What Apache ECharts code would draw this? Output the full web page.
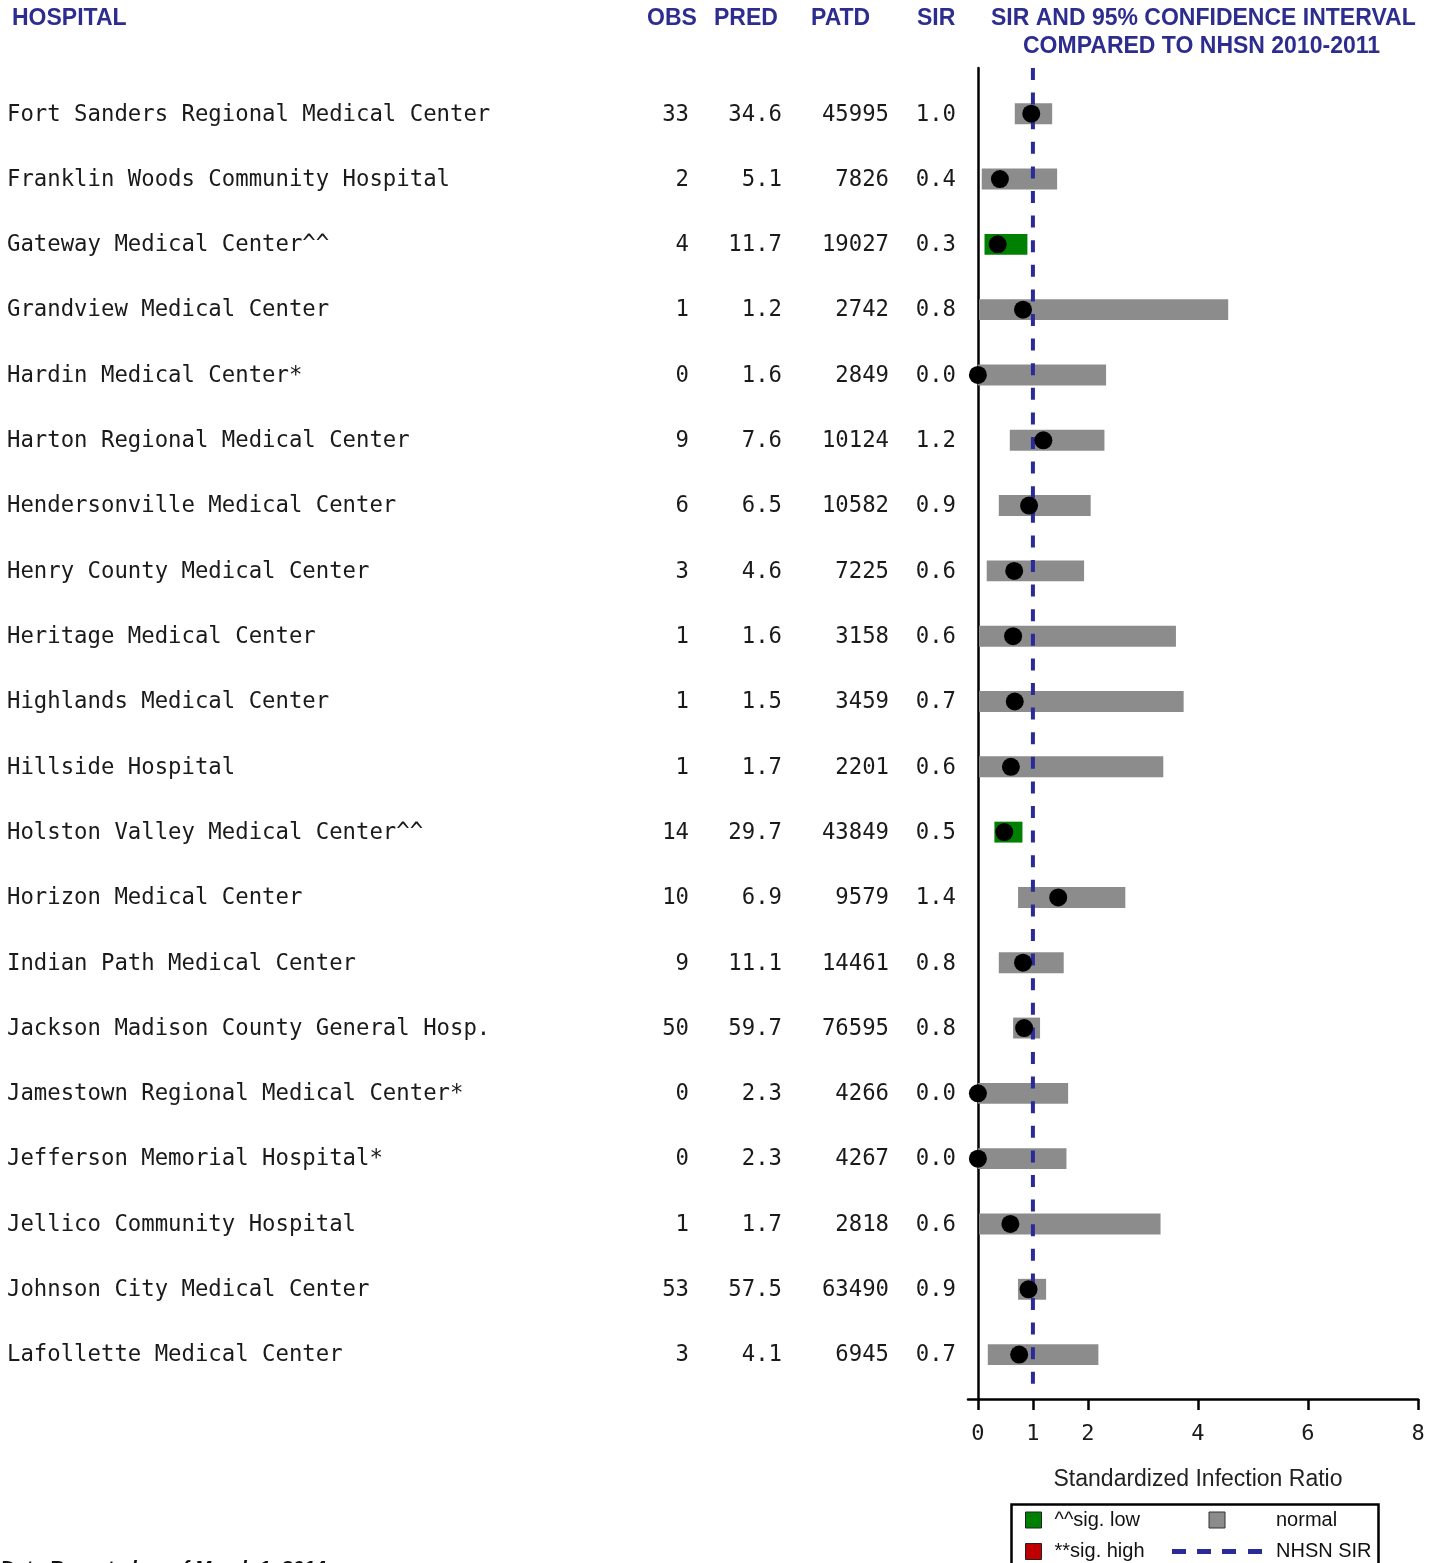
<!DOCTYPE html>
<html>
<head>
<meta charset="utf-8">
<script src="https://cdn.jsdelivr.net/npm/echarts@6/dist/echarts.min.js"></script>
<style>html,body{margin:0;padding:0;background:#fff}#chart{width:1440px;height:1563px}</style>
</head>
<body>
<div id="chart"></div>
<script>
// ---------- data ----------
const hospitals = [
  'Fort Sanders Regional Medical Center',
  'Franklin Woods Community Hospital',
  'Gateway Medical Center^^',
  'Grandview Medical Center',
  'Hardin Medical Center*',
  'Harton Regional Medical Center',
  'Hendersonville Medical Center',
  'Henry County Medical Center',
  'Heritage Medical Center',
  'Highlands Medical Center',
  'Hillside Hospital',
  'Holston Valley Medical Center^^',
  'Horizon Medical Center',
  'Indian Path Medical Center',
  'Jackson Madison County General Hosp.',
  'Jamestown Regional Medical Center*',
  'Jefferson Memorial Hospital*',
  'Jellico Community Hospital',
  'Johnson City Medical Center',
  'Lafollette Medical Center'
];
const obs  = [33, 2, 4, 1, 0, 9, 6, 3, 1, 1, 1, 14, 10, 9, 50, 0, 0, 1, 53, 3];
const pred = [34.6, 5.1, 11.7, 1.2, 1.6, 7.6, 6.5, 4.6, 1.6, 1.5, 1.7, 29.7, 6.9, 11.1, 59.7, 2.3, 2.3, 1.7, 57.5, 4.1];
const patd = [45995, 7826, 19027, 2742, 2849, 10124, 10582, 7225, 3158, 3459, 2201, 43849, 9579, 14461, 76595, 4266, 4267, 2818, 63490, 6945];
const sirText = [1.0, 0.4, 0.3, 0.8, 0.0, 1.2, 0.9, 0.6, 0.6, 0.7, 0.6, 0.5, 1.4, 0.8, 0.8, 0.0, 0.0, 0.6, 0.9, 0.7];
const sirPoint = [0.97, 0.40, 0.36, 0.82, 0, 1.19, 0.93, 0.66, 0.64, 0.67, 0.60, 0.48, 1.46, 0.82, 0.84, 0, 0, 0.59, 0.92, 0.75];
const ciLow  = [0.67, 0.07, 0.12, 0.02, 0, 0.58, 0.38, 0.16, 0.02, 0.02, 0.02, 0.30, 0.73, 0.38, 0.64, 0, 0, 0.02, 0.73, 0.18];
const ciHigh = [1.35, 1.44, 0.90, 4.55, 2.33, 2.30, 2.05, 1.93, 3.60, 3.74, 3.37, 0.81, 2.68, 1.56, 1.13, 1.64, 1.61, 3.32, 1.24, 2.19];
const status = ['normal','normal','low','normal','normal','normal','normal','normal','normal','normal',
                'normal','low','normal','normal','normal','normal','normal','normal','normal','normal'];
const nhsnSIR = 1;
const xTicks = [0, 1, 2, 4, 6, 8];
const columnHeaders = ['HOSPITAL', 'OBS', 'PRED', 'PATD', 'SIR'];

// ---------- layout / style ----------
const Y_MIN = -0.7, Y_MAX = 19.68;
const HEAD = '#2d2d8f';
const MONO = '"DejaVu Sans Mono", monospace';
const SANS = '"Liberation Sans", Arial, sans-serif';
const TXT = '#1a1a1a';
const COLS = { name: 7, obs: 689, pred: 782, patd: 889, sir: 956 };

const barsOf = st => ciLow.map((lo, i) => status[i] === st ? [lo, ciHigh[i], i] : null).filter(Boolean);

function renderBar(params, api) {
  const i = api.value(2);
  const p1 = api.coord([api.value(0), i]);
  const p2 = api.coord([api.value(1), i]);
  const h = api.size([0, 1])[1] * 0.32;
  return { type: 'rect', shape: { x: p1[0], y: p1[1] - h / 2, width: p2[0] - p1[0], height: h }, style: api.style() };
}

function renderRow(params, api) {
  const i = api.value(1);
  const y = api.coord([0, i])[1] + 1;
  const t = (text, col, align) => ({
    type: 'text',
    style: { text: text, x: api.coord([col, i])[0], y: y, font: '22.3px ' + MONO, fill: TXT, align: align, verticalAlign: 'middle' }
  });
  return {
    type: 'group',
    children: [
      t(hospitals[i], COLS.name, 'left'),
      t(String(obs[i]), COLS.obs, 'right'),
      t(pred[i].toFixed(1), COLS.pred, 'right'),
      t(String(patd[i]), COLS.patd, 'right'),
      t(sirText[i].toFixed(1), COLS.sir, 'right')
    ]
  };
}

const headStyle = { fontFamily: SANS, fontSize: 23, fontWeight: 'bold', color: HEAD };
const chart = echarts.init(document.getElementById('chart'), null, { renderer: 'canvas' });

chart.setOption({
  animation: false,
  backgroundColor: '#fff',
  title: [
    { text: columnHeaders[0], left: 12, top: 7, padding: 0, textStyle: headStyle },
    { text: columnHeaders[1], left: 647, top: 7, padding: 0, textStyle: headStyle },
    { text: columnHeaders[2], left: 714, top: 7, padding: 0, textStyle: headStyle },
    { text: columnHeaders[3], left: 811, top: 7, padding: 0, textStyle: headStyle },
    { text: columnHeaders[4], left: 917, top: 7, padding: 0, textStyle: headStyle },
    { text: 'SIR AND 95% CONFIDENCE INTERVAL', left: 991, top: 7, padding: 0, textStyle: headStyle },
    { text: 'COMPARED TO NHSN 2010-2011', left: 1023, top: 35, padding: 0, textStyle: headStyle },
    { text: 'Data Reported as of March 1, 2014', left: 0, top: 1559, padding: 0,
      textStyle: { fontFamily: SANS, fontSize: 20, fontWeight: 'bold', fontStyle: 'italic', color: '#111' } }
  ],
  legend: [
    { left: 1025, top: 1510, orient: 'vertical', padding: 0, itemWidth: 16, itemHeight: 16, itemGap: 11.5,
      selectedMode: false, icon: 'rect',
      textStyle: { fontFamily: SANS, fontSize: 20, color: '#111', padding: [0, 0, 0, 8] },
      data: [
        { name: '^^sig. low', itemStyle: { color: '#008000', borderColor: '#222', borderWidth: 1 } },
        { name: '**sig. high', itemStyle: { color: '#c00000', borderColor: '#222', borderWidth: 1 } }
      ] },
    { left: 1172, top: 1510, orient: 'vertical', padding: 0, itemWidth: 90, itemHeight: 16, itemGap: 11.5,
      selectedMode: false,
      textStyle: { fontFamily: SANS, fontSize: 20, color: '#111', padding: [0, 0, 0, 9] },
      data: [
        { name: 'normal', icon: 'path://M0,0H16V16H0Z', itemStyle: { color: '#8c8c8c', borderColor: '#333', borderWidth: 1 } },
        { name: 'NHSN SIR', icon: 'path://M0,0H14V5H0ZM25,0H39V5H25ZM50,0H64V5H50ZM76,0H90V5H76Z',
          itemStyle: { color: '#2a2a98', borderWidth: 0 }, lineStyle: { width: 0 } }
      ] }
  ],
  graphic: [
    { type: 'rect', left: 1009, top: 1502, shape: { width: 367, height: 80 },
      style: { fill: 'none', stroke: '#000', lineWidth: 2.5 }, silent: true }
  ],
  grid: [
    { left: 968, right: 22, top: 68, bottom: 164 },
    { left: 0, width: 960, top: 68, bottom: 164 }
  ],
  xAxis: [
    { type: 'value', gridIndex: 0, min: -0.18, max: 8,
      axisLine: { show: true, onZero: false, lineStyle: { color: '#000', width: 2.5 } },
      axisTick: { show: true, customValues: xTicks, length: 11, lineStyle: { color: '#000', width: 2.5 } },
      axisLabel: { show: true, customValues: xTicks, margin: 24, fontFamily: MONO, fontSize: 22, color: TXT },
      splitLine: { show: false },
      name: 'Standardized Infection Ratio', nameLocation: 'middle', nameGap: 69,
      nameTextStyle: { fontFamily: SANS, fontSize: 23, color: '#222', padding: [0, 0, 0, 10] } },
    { type: 'value', gridIndex: 1, min: 0, max: 960, show: false }
  ],
  yAxis: [
    { type: 'value', gridIndex: 0, inverse: true, min: Y_MIN, max: Y_MAX,
      axisLine: { show: true, onZero: true, lineStyle: { color: '#000', width: 2.5 } },
      axisTick: { show: false }, axisLabel: { show: false }, splitLine: { show: false } },
    { type: 'value', gridIndex: 1, inverse: true, min: Y_MIN, max: Y_MAX, show: false }
  ],
  series: [
    { name: 'normal', type: 'custom', xAxisIndex: 0, yAxisIndex: 0, renderItem: renderBar,
      encode: { x: [0, 1], y: 2 }, itemStyle: { color: '#8c8c8c' }, data: barsOf('normal'), z: 2 },
    { name: '^^sig. low', type: 'custom', xAxisIndex: 0, yAxisIndex: 0, renderItem: renderBar,
      encode: { x: [0, 1], y: 2 }, itemStyle: { color: '#008000' }, data: barsOf('low'), z: 2 },
    { name: '**sig. high', type: 'custom', xAxisIndex: 0, yAxisIndex: 0, renderItem: renderBar,
      encode: { x: [0, 1], y: 2 }, itemStyle: { color: '#c00000' }, data: barsOf('high'), z: 2 },
    { name: 'NHSN SIR', type: 'line', xAxisIndex: 0, yAxisIndex: 0, showSymbol: false, symbol: 'none',
      itemStyle: { color: '#2a2a98' },
      lineStyle: { color: '#2a2a98', width: 4, type: [12, 12.6] },
      data: [[nhsnSIR, Y_MIN], [nhsnSIR, Y_MAX - 0.06]], z: 3 },
    { name: 'SIR', type: 'scatter', xAxisIndex: 0, yAxisIndex: 0, symbolSize: 18,
      itemStyle: { color: '#000', opacity: 1 }, data: sirPoint.map((v, i) => [v, i]), z: 4 },
    { name: 'table', type: 'custom', xAxisIndex: 1, yAxisIndex: 1, renderItem: renderRow,
      encode: { x: 0, y: 1 }, data: hospitals.map((h, i) => [0, i]), silent: true }
  ]
});
</script>
</body>
</html>
